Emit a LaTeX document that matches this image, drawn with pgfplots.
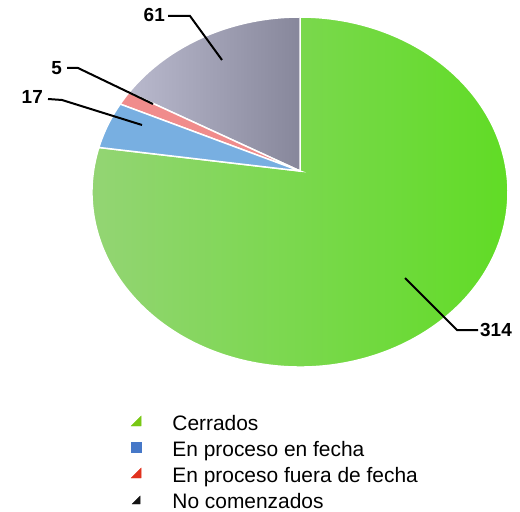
\documentclass[border=0pt]{standalone}
\usepackage{fontspec}
\setmainfont{Liberation Sans}
\usepackage{pgfplots}
\usepackage{pgfplotstable}
\pgfplotsset{compat=1.18}
\usetikzlibrary{calc}
\definecolor{cgreenL}{RGB}{150,212,120}
\definecolor{cgreenR}{RGB}{95,220,35}
\definecolor{cgreyL}{RGB}{185,185,205}
\definecolor{cgreyR}{RGB}{135,135,155}
\definecolor{cred}{RGB}{240,140,140}
\definecolor{cblue}{RGB}{120,175,225}
\definecolor{kgreen}{RGB}{120,200,20}
\definecolor{kblue}{RGB}{70,120,200}
\definecolor{kred}{RGB}{225,50,30}
\definecolor{kblack}{RGB}{20,20,20}

% slices counter-clockwise from 12 o'clock
\pgfplotstableread{
label value
NoComenzados 61
FueraFecha 5
EnFecha 17
Cerrados 314
}\piedata

\begin{document}
\begin{tikzpicture}
\pgfplotstablegetelem{0}{value}\of\piedata \pgfmathsetmacro\vA{\pgfplotsretval}
\pgfplotstablegetelem{1}{value}\of\piedata \pgfmathsetmacro\vB{\pgfplotsretval}
\pgfplotstablegetelem{2}{value}\of\piedata \pgfmathsetmacro\vC{\pgfplotsretval}
\pgfplotstablegetelem{3}{value}\of\piedata \pgfmathsetmacro\vD{\pgfplotsretval}
\pgfmathsetmacro\total{\vA+\vB+\vC+\vD}
\pgfmathsetmacro\aA{90}
\pgfmathsetmacro\aB{\aA+360*(\vA/\total)}
\pgfmathsetmacro\aC{\aB+360*(\vB/\total)}
\pgfmathsetmacro\aD{\aC+360*(\vC/\total)}
\pgfmathsetmacro\aE{\aD+360*(\vD/\total)}
\begin{axis}[
  width=520bp, height=511bp, scale only axis,
  xmin=0, xmax=520, ymin=0, ymax=511,
  hide axis, clip=false,
  legend cell align=left,
  legend style={draw=none, fill=none, at={(axis cs:131,98)}, anchor=north west,
    inner sep=0pt, outer sep=0pt, row sep=0pt,
    font=\fontsize{21}{25}\selectfont,
    nodes={inner sep=0pt, text height=17bp, text depth=9bp},
    /tikz/every odd column/.append style={column sep=31bp}},
]
% Cerrados (big slice)
\shadedraw[left color=cgreenL, right color=cgreenR, draw=white, line width=1.5bp]
  (axis cs:300,340) -- ($(axis cs:300,319)+(\aD:208bp and 175bp)$)
  arc[start angle=\aD, end angle=\aE, x radius=208bp, y radius=175bp] -- cycle;
% No comenzados
\shadedraw[left color=cgreyL, right color=cgreyR, draw=white, line width=1.5bp]
  (axis cs:300,340) -- ($(axis cs:300,319)+(\aA:208bp and 175bp)$)
  arc[start angle=\aA, end angle=\aB, x radius=208bp, y radius=175bp] -- cycle;
% En proceso fuera de fecha
\filldraw[fill=cred, draw=white, line width=1.5bp]
  (axis cs:300,340) -- ($(axis cs:300,319)+(\aB:208bp and 175bp)$)
  arc[start angle=\aB, end angle=\aC, x radius=208bp, y radius=175bp] -- cycle;
% En proceso en fecha
\filldraw[fill=cblue, draw=white, line width=1.5bp]
  (axis cs:300,340) -- ($(axis cs:300,319)+(\aC:208bp and 175bp)$)
  arc[start angle=\aC, end angle=\aD, x radius=208bp, y radius=175bp] -- cycle;

% leader lines and value labels
\draw[black, line width=2bp] (axis cs:168,495) -- (axis cs:190,495) -- (axis cs:222,451);
\node[font=\bfseries\fontsize{19}{19}\selectfont, anchor=east, inner sep=1bp] at (axis cs:166,496) {61};
\draw[black, line width=2bp] (axis cs:67,443) -- (axis cs:78,443) -- (axis cs:153,407);
\node[font=\bfseries\fontsize{19}{19}\selectfont, anchor=east, inner sep=1bp] at (axis cs:63,443) {5};
\draw[black, line width=2bp] (axis cs:48,412) -- (axis cs:62,411) -- (axis cs:142,386);
\node[font=\bfseries\fontsize{19}{19}\selectfont, anchor=east, inner sep=1bp] at (axis cs:44,414) {17};
\draw[black, line width=2bp] (axis cs:478,181) -- (axis cs:457,181) -- (axis cs:405,233);
\node[font=\bfseries\fontsize{19}{19}\selectfont, anchor=west, inner sep=1bp] at (axis cs:479,181) {314};

\addlegendimage{legend image code/.code={\fill[kgreen] (0bp,0bp) -- (10bp,0bp) -- (10bp,10bp) -- cycle;}}
\addlegendentry{Cerrados}
\addlegendimage{legend image code/.code={\fill[kblue] (0bp,0bp) rectangle (10bp,10bp);}}
\addlegendentry{En proceso en fecha}
\addlegendimage{legend image code/.code={\fill[kred] (0bp,0bp) -- (10bp,0bp) -- (10bp,10bp) -- cycle;}}
\addlegendentry{En proceso fuera de fecha}
\addlegendimage{legend image code/.code={\fill[kblack] (1bp,0bp) -- (9bp,0bp) -- (9bp,8bp) -- cycle;}}
\addlegendentry{No comenzados}
\end{axis}
\pgfresetboundingbox
\path (current axis.south west) rectangle (current axis.north east);
\end{tikzpicture}
\end{document}
